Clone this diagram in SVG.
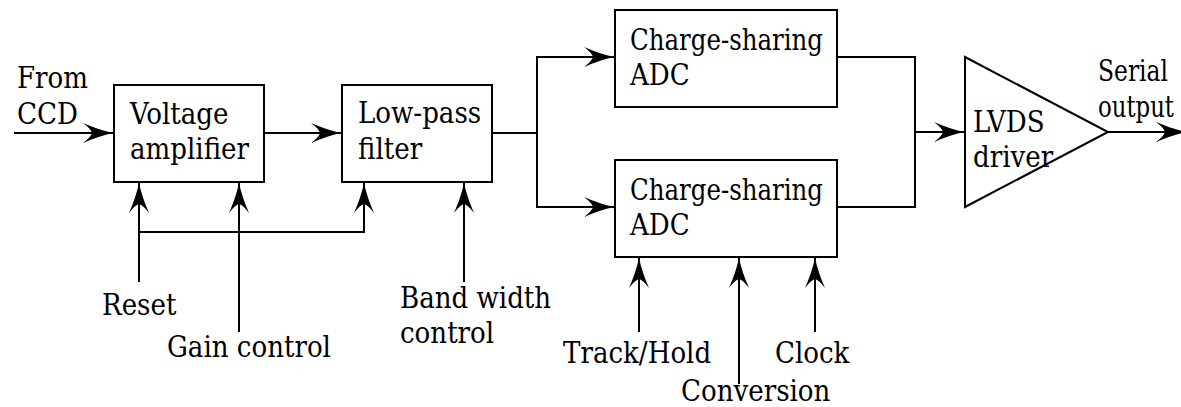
<svg xmlns="http://www.w3.org/2000/svg" width="1181" height="407" viewBox="0 0 1181 407" font-family="DejaVu Serif Condensed, DejaVu Serif, serif" font-size="29">
  <style>
    .box { fill: #fff; stroke: #000; stroke-width: 2; }
    .wire { fill: none; stroke: #000; stroke-width: 2; }
    .arrow { marker-end: url(#head); }
    text { fill: #000; font-stretch: condensed; }
  </style>
  <defs>
    <!-- barbed arrowhead shared by all connectors -->
    <marker id="head" markerUnits="userSpaceOnUse" viewBox="-31 -11 33 22" refX="0" refY="0" markerWidth="33" markerHeight="22" orient="auto" overflow="visible">
      <path d="M0,0 Q-14,-3 -30,-10 Q-22,-4 -21,0 Q-22,4 -30,10 Q-14,3 0,0 Z" fill="#000"/>
    </marker>
  </defs>

  <!-- signal path connectors -->
  <g id="connectors">
    <path class="wire arrow" d="M14,133 H113"/>
    <path class="wire arrow" d="M264,133 H341"/>
    <path class="wire" d="M492,133 H537"/>
    <path class="wire arrow" d="M537,133 V57 H614"/>
    <path class="wire arrow" d="M537,133 V207 H614"/>
    <path class="wire" d="M837,57 H915 V207 H837"/>
    <path class="wire arrow" d="M915,132 H964"/>
    <path class="wire arrow" d="M1108,132 H1186"/>
    <!-- control inputs -->
    <path class="wire arrow" d="M139,282 V183"/>
    <path class="wire arrow" d="M139,232 H364 V183"/>
    <path class="wire arrow" d="M239,332 V183"/>
    <path class="wire arrow" d="M464,282 V183"/>
    <path class="wire arrow" d="M639,332 V258"/>
    <path class="wire arrow" d="M739,384 V258"/>
    <path class="wire arrow" d="M815,332 V258"/>
  </g>

  <g id="voltage-amplifier">
    <rect class="box" x="114" y="85" width="150" height="97"/>
    <text x="130" y="124">Voltage</text>
    <text x="130" y="159">amplifier</text>
  </g>

  <g id="low-pass-filter">
    <rect class="box" x="342" y="85" width="150" height="97"/>
    <text x="358" y="123">Low-pass</text>
    <text x="358" y="159">filter</text>
  </g>

  <g id="adc-top">
    <rect class="box" x="615" y="10" width="222" height="97"/>
    <text x="630" y="50" textLength="193" lengthAdjust="spacingAndGlyphs">Charge-sharing</text>
    <text x="630" y="85">ADC</text>
  </g>

  <g id="adc-bottom">
    <rect class="box" x="615" y="160" width="222" height="97"/>
    <text x="630" y="200" textLength="193" lengthAdjust="spacingAndGlyphs">Charge-sharing</text>
    <text x="630" y="235">ADC</text>
  </g>

  <g id="lvds-driver">
    <path class="box" d="M965,57 L1108,132 L965,207 Z" style="fill:none"/>
    <text x="973" y="132">LVDS</text>
    <text x="973" y="167">driver</text>
  </g>

  <g id="labels">
    <text x="17" y="88">From</text>
    <text x="17" y="124">CCD</text>
    <text x="1098" y="81" textLength="70" lengthAdjust="spacingAndGlyphs">Serial</text>
    <text x="1098" y="117" textLength="76" lengthAdjust="spacingAndGlyphs">output</text>
    <text x="102" y="315">Reset</text>
    <text x="167" y="357">Gain control</text>
    <text x="400" y="308">Band width</text>
    <text x="400" y="343">control</text>
    <text x="563" y="363">Track/Hold</text>
    <text x="681" y="401">Conversion</text>
    <text x="775" y="363">Clock</text>
  </g>
</svg>
